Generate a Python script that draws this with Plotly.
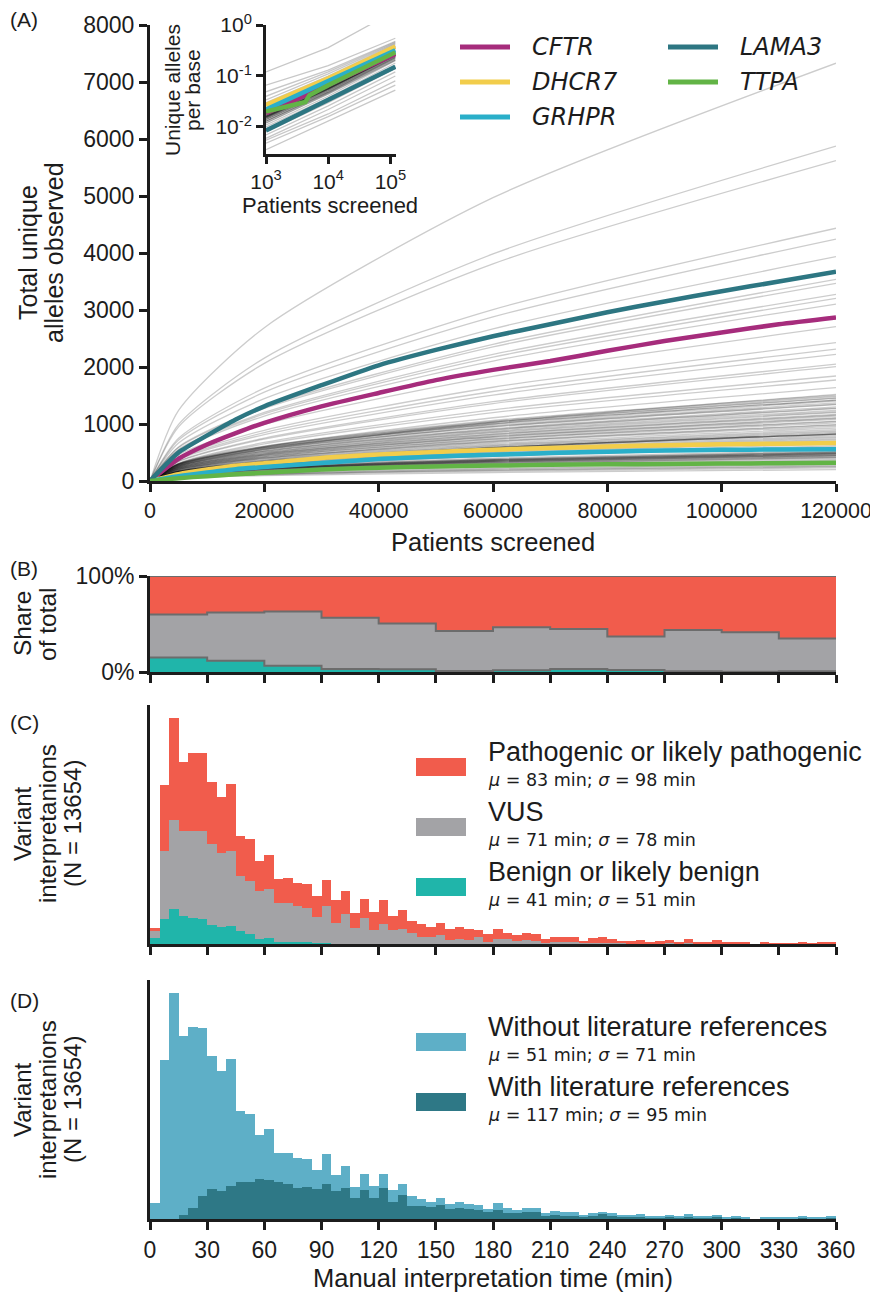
import plotly.graph_objects as go

# page is drawn with an 8px body margin: figure is sized to fit, coords are given in window pixels
OFF = 8
W, H = 870, 1285
def fx(p): return (p - OFF) / W
def fy(p): return 1 - (p - OFF) / H

FONT = "Liberation Sans, Arial, sans-serif"
MATH = "DejaVu Sans, sans-serif"
INK = "#1c1c1c"

# ---------------- Panel A : unique alleles vs patients ----------------
patients_grid = [0, 5000, 10000, 15000, 20000, 30000, 40000, 50000, 60000,
                 70000, 80000, 90000, 100000, 110000, 120000]
patients_ticks = [0, 20000, 40000, 60000, 80000, 100000, 120000]
gene_names = ["CFTR", "DHCR7", "GRHPR", "LAMA3", "TTPA"]
gene_colors = ["#a62c7c", "#f2cd4b", "#2aafc9", "#2d7682", "#62b446"]
cftr_alleles = [0, 390, 640, 840, 1020, 1310, 1545, 1770, 1950, 2105, 2285, 2455, 2605, 2750, 2870]
dhcr7_alleles = [0, 120, 200, 268, 310, 405, 465, 510, 548, 580, 606, 628, 645, 655, 665]
grhpr_alleles = [0, 85, 150, 208, 245, 315, 385, 430, 460, 490, 515, 535, 547, 552, 558]
lama3_alleles = [0, 500, 800, 1080, 1310, 1680, 2030, 2300, 2540, 2750, 2960, 3150, 3330, 3500, 3672]
ttpa_alleles = [0, 50, 85, 118, 145, 200, 232, 255, 270, 283, 292, 299, 305, 313, 321]
gene_alleles = [cftr_alleles, dhcr7_alleles, grhpr_alleles, lama3_alleles, ttpa_alleles]

# background genes: value at 5k, 20k, 60k and 120k patients
gray_x = [0, 5000, 20000, 60000, 120000]
gray_5k = [1239, 993, 950, 750, 717, 665, 598, 586, 553, 542, 525, 457, 410, 391, 376, 347, 339, 311, 299, 277, 257,
           306, 302, 298, 296, 290, 286, 279, 273, 265, 259, 253, 245, 239, 233, 226, 220, 214, 208, 202, 196, 190, 184,
           180, 175, 171, 168, 168, 168, 163, 159, 155, 151, 147, 143, 139, 133, 126,
           158, 153, 142, 137, 134, 132, 129, 126, 124, 121, 118, 116, 113, 110, 108, 105, 100, 95, 89, 79, 74, 68, 66, 60, 53,
           290, 275, 262, 248, 236, 224, 212, 200, 168, 132, 128, 124, 118]
gray_20k = [2690, 2156, 2063, 1628, 1558, 1444, 1298, 1273, 1202, 1176, 1140, 993, 890, 850, 815, 753, 736, 676, 650, 601, 558,
            612, 604, 596, 592, 579, 571, 559, 547, 530, 518, 506, 490, 477, 465, 453, 441, 428, 416, 404, 392, 379, 367,
            359, 351, 343, 336, 336, 336, 326, 318, 310, 302, 294, 286, 277, 265, 253,
            283, 273, 254, 245, 240, 236, 231, 226, 221, 217, 212, 207, 203, 198, 193, 188, 179, 170, 160, 141, 132, 122, 118, 108, 94,
            580, 551, 523, 496, 472, 448, 424, 400, 336, 236, 228, 221, 212]
gray_60k = [4970, 3983, 3810, 3007, 2878, 2668, 2399, 2351, 2220, 2173, 2105, 1835, 1645, 1570, 1507, 1391, 1359, 1249, 1201, 1110, 1031,
            1061, 1046, 1032, 1025, 1004, 990, 969, 947, 919, 898, 877, 848, 827, 806, 785, 764, 742, 721, 700, 679, 658, 636,
            622, 608, 594, 583, 583, 583, 566, 551, 537, 523, 509, 495, 481, 460, 438,
            448, 433, 403, 388, 381, 374, 366, 359, 351, 344, 336, 329, 321, 314, 306, 299, 284, 269, 254, 224, 209, 194, 187, 172, 149,
            1004, 955, 905, 860, 817, 776, 735, 693, 583, 374, 362, 351, 336]
gray_120k = [7330, 5875, 5620, 4435, 4245, 3935, 3538, 3468, 3275, 3205, 3105, 2707, 2426, 2315, 2222, 2052, 2005, 1842, 1772, 1637, 1520,
             1500, 1480, 1460, 1450, 1420, 1400, 1370, 1340, 1300, 1270, 1240, 1200, 1170, 1140, 1110, 1080, 1050, 1020, 990, 960, 930, 900,
             880, 860, 840, 824, 824, 824, 800, 780, 760, 740, 720, 700, 680, 650, 620,
             600, 580, 540, 520, 510, 500, 490, 480, 470, 460, 450, 440, 430, 420, 410, 400, 380, 360, 340, 300, 280, 260, 250, 230, 200,
             1420, 1350, 1280, 1215, 1155, 1098, 1040, 980, 824, 500, 485, 470, 450]

# inset: unique alleles per base (log-log)
inset_x = [1000, 10000, 120000]
inset_gray_1e3 = [0.12, 0.066, 0.049, 0.040, 0.034, 0.030, 0.028, 0.026, 0.024, 0.022, 0.021, 0.020, 0.019, 0.018, 0.017,
                  0.016, 0.016, 0.016, 0.015, 0.015, 0.014, 0.013, 0.012, 0.011, 0.010, 0.009, 0.008, 0.007, 0.006, 0.0055,
                  0.0048, 0.0036, 0.023, 0.021, 0.019, 0.018, 0.017, 0.016, 0.015, 0.014, 0.013, 0.012, 0.016, 0.016,
                  0.017, 0.015, 0.014, 0.013]
inset_gray_1e4 = [0.36, 0.16, 0.13, 0.12, 0.11, 0.10, 0.095, 0.09, 0.085, 0.08, 0.075, 0.072, 0.068, 0.065, 0.062,
                  0.058, 0.056, 0.056, 0.055, 0.053, 0.05, 0.047, 0.044, 0.04, 0.037, 0.033, 0.03, 0.026, 0.022, 0.018,
                  0.016, 0.013, 0.083, 0.077, 0.07, 0.066, 0.062, 0.058, 0.055, 0.052, 0.048, 0.045, 0.057, 0.057,
                  0.06, 0.054, 0.05, 0.047]
inset_gray_1e5 = [1.9, 0.55, 0.48, 0.46, 0.44, 0.42, 0.40, 0.38, 0.36, 0.34, 0.33, 0.31, 0.30, 0.29, 0.28,
                  0.27, 0.26, 0.26, 0.26, 0.25, 0.24, 0.23, 0.21, 0.20, 0.18, 0.16, 0.14, 0.12, 0.10, 0.08,
                  0.066, 0.053, 0.38, 0.35, 0.32, 0.30, 0.28, 0.265, 0.25, 0.235, 0.22, 0.205, 0.26, 0.26,
                  0.27, 0.25, 0.23, 0.22]
cftr_inset = [0.0186, 0.068, 0.27]
dhcr7_inset = [0.027, 0.09, 0.376]
grhpr_inset = [0.022, 0.079, 0.32]
lama3_inset = [0.0085, 0.034, 0.152]
ttpa_inset_x = [1000, 3500, 4300, 5000, 10000, 120000]
ttpa_inset = [0.020, 0.030, 0.031, 0.042, 0.066, 0.29]

# ---------------- Panel B : share by 30-min bins ----------------
share_bins = [0, 30, 60, 90, 120, 150, 180, 210, 240, 270, 300, 330, 360]
share_benign = [0.15, 0.117, 0.064, 0.032, 0.028, 0.011, 0.018, 0.032, 0.021, 0.007, 0.003, 0.007]
share_benign_vus = [0.60, 0.62, 0.63, 0.565, 0.505, 0.428, 0.466, 0.449, 0.371, 0.438, 0.413, 0.35]

# ---------------- Panel C / D : 5-min histograms ----------------
bin_width = 5
time_ticks = list(range(0, 361, 30))
c_total = [49, 478, 679, 547, 574, 574, 487, 442, 481, 325, 316, 250, 268, 196, 199, 184, 181, 145, 193, 133, 160, 94,
           136, 97, 133, 85, 103, 70, 61, 52, 64,
           46, 52, 46, 43, 31, 46, 34, 28, 34, 31, 16, 22, 22, 22, 10, 19, 22, 16, 10, 10, 13, 7, 10, 13, 4, 16, 4, 7,
           13, 4, 4, 4, 0, 4, 1, 1, 1, 7, 1, 4, 7]
c_benign_vus = [40, 280, 373, 340, 340, 340, 301, 274, 280, 205, 190, 160, 166, 124, 124, 115, 109, 82, 115, 64, 91, 49,
                79, 43, 61, 43, 46, 34, 22, 22, 28,
                13, 16, 13, 22, 7, 16, 16, 10, 13, 10, 4, 7, 7, 7, 3, 4, 4, 3, 2, 1, 1, 1, 1, 2, 1, 2, 1, 1, 1, 0,
                0, 0, 0, 0, 0, 0, 0, 0, 0, 0, 0]
c_benign = [19, 76, 106, 85, 79, 76, 58, 52, 55, 40, 31, 16, 19, 7, 7, 7, 7, 4, 4] + [0] * 53
d_total = [48, 477, 678, 549, 576, 573, 489, 444, 480, 324, 315, 252, 270, 198, 198, 183, 180, 147, 195, 132, 159, 96,
           135, 99, 135, 87, 105, 69, 60, 51, 63,
           46, 52, 46, 43, 31, 49, 34, 28, 34, 34, 19, 25, 22, 22, 13, 19, 22, 19, 13, 10, 16, 10, 10, 13, 7, 16, 7, 10,
           13, 4, 7, 4, 0, 4, 4, 4, 4, 7, 4, 4, 7]
d_with_refs = [0, 0, 0, 12, 33, 69, 90, 84, 99, 111, 111, 120, 117, 111, 105, 93, 96, 90, 105, 84, 93, 63, 87, 63, 93,
               51, 72, 39, 39, 36, 42,
               31, 34, 31, 28, 22, 28, 19, 19, 22, 22, 10, 13, 10, 10, 7, 10, 16, 10, 7, 7, 7, 4, 4, 7, 4, 7, 4, 4, 7, 2,
               3, 2, 0, 2, 1, 1, 1, 4, 1, 1, 3]

c_labels = ["Pathogenic or likely pathogenic", "VUS", "Benign or likely benign"]
c_stats = [(83, 98), (71, 78), (41, 51)]
d_labels = ["Without literature references", "With literature references"]
d_stats = [(51, 71), (117, 95)]

RED, GRAY, TEAL = "#f15c4c", "#a3a3a6", "#20b5aa"
LIGHT, DARK = "#5eafc7", "#2e7886"

fig = go.Figure()

# ---- panel A traces
for i in range(len(gray_120k)):
    fig.add_trace(go.Scatter(x=gray_x, y=[0, gray_5k[i], gray_20k[i], gray_60k[i], gray_120k[i]],
                             mode="lines", line=dict(color="rgba(0,0,0,0.2)", width=1.3, shape="spline", smoothing=0.7),
                             xaxis="x", yaxis="y", hoverinfo="skip", showlegend=False))
for name, col, vals in zip(gene_names, gene_colors, gene_alleles):
    fig.add_trace(go.Scatter(x=patients_grid, y=vals, mode="lines", name=name,
                             line=dict(color=col, width=4.5, shape="spline", smoothing=0.6),
                             xaxis="x", yaxis="y", showlegend=False))

# ---- inset
for a, b, c in zip(inset_gray_1e3, inset_gray_1e4, inset_gray_1e5):
    fig.add_trace(go.Scatter(x=inset_x, y=[a, b, c], mode="lines",
                             line=dict(color="rgba(0,0,0,0.22)", width=1.3),
                             xaxis="x2", yaxis="y2", hoverinfo="skip", showlegend=False))
inset_sets = [(inset_x, cftr_inset), (inset_x, dhcr7_inset), (inset_x, grhpr_inset),
              (inset_x, lama3_inset), (ttpa_inset_x, ttpa_inset)]
for (xs, ys), col in zip(inset_sets, gene_colors):
    fig.add_trace(go.Scatter(x=xs, y=ys, mode="lines", line=dict(color=col, width=4.5),
                             xaxis="x2", yaxis="y2", showlegend=False))

# ---- panel B
bx = share_bins
ben = share_benign + [share_benign[-1]]
bv = share_benign_vus + [share_benign_vus[-1]]
top = [1.0] * len(bx)
edge = dict(color="#6c6c6c", width=2, shape="hv")
fig.add_trace(go.Scatter(x=bx, y=ben, mode="lines", fill="tozeroy", fillcolor=TEAL, line=edge,
                         xaxis="x3", yaxis="y3", showlegend=False))
fig.add_trace(go.Scatter(x=bx, y=bv, mode="lines", fill="tonexty", fillcolor=GRAY, line=edge,
                         xaxis="x3", yaxis="y3", showlegend=False))
fig.add_trace(go.Scatter(x=bx, y=top, mode="lines", fill="tonexty", fillcolor=RED, line=edge,
                         xaxis="x3", yaxis="y3", showlegend=False))

# ---- panel C
centers = [bin_width * i + bin_width / 2 for i in range(len(c_total))]
c_vus = [bv_ - b_ for bv_, b_ in zip(c_benign_vus, c_benign)]
c_path = [t - bv_ for t, bv_ in zip(c_total, c_benign_vus)]
for vals, col in [(c_benign, TEAL), (c_vus, GRAY), (c_path, RED)]:
    fig.add_trace(go.Bar(x=centers, y=vals, width=bin_width, marker=dict(color=col, line=dict(width=0)),
                         xaxis="x4", yaxis="y4", showlegend=False))

# ---- panel D
d_without = [t - w for t, w in zip(d_total, d_with_refs)]
for vals, col in [(d_with_refs, DARK), (d_without, LIGHT)]:
    fig.add_trace(go.Bar(x=centers, y=vals, width=bin_width, marker=dict(color=col, line=dict(width=0)),
                         xaxis="x5", yaxis="y5", showlegend=False))

# ---- axes
axline = dict(showline=True, linewidth=3, linecolor=INK, ticks="outside", ticklen=8, tickwidth=3,
              tickcolor=INK, showgrid=False, zeroline=False, automargin=False,
              tickfont=dict(family=FONT, size=23, color=INK))
small = {**axline, "tickfont": dict(family=FONT, size=21, color=INK), "ticklen": 7}
xdom = [fx(150), fx(836)]
layout = dict(
    template="none",
    width=W, height=H, margin=dict(l=0, r=0, t=0, b=0, autoexpand=False),
    paper_bgcolor="white", plot_bgcolor="rgba(0,0,0,0)",
    barmode="stack", bargap=0, showlegend=False,
    xaxis=dict(domain=xdom, range=[0, 120000], tickvals=patients_ticks,
               ticktext=[str(v) for v in patients_ticks], anchor="y",
               **{**axline, "tickfont": dict(family=FONT, size=21.5, color=INK)}),
    yaxis=dict(domain=[fy(481), fy(25)], range=[0, 8000], tickvals=list(range(0, 8001, 1000)),
               ticktext=[str(v) for v in range(0, 8001, 1000)], anchor="x", **axline),
    xaxis2=dict(domain=[fx(266), fx(396)], type="log", range=[3, 5.09], tickvals=[1e3, 1e4, 1e5],
                ticktext=["10<sup>3</sup>", "10<sup>4</sup>", "10<sup>5</sup>"], anchor="y2", **small),
    yaxis2=dict(domain=[fy(154), fy(25)], type="log", range=[-2.53, 0], tickvals=[1, 0.1, 0.01],
                ticktext=["10<sup>0</sup>", "10<sup>-1</sup>", "10<sup>-2</sup>"], anchor="x2", **small),
    xaxis3=dict(domain=xdom, range=[0, 360], tickvals=time_ticks, showticklabels=False, anchor="y3", **axline),
    yaxis3=dict(domain=[fy(672), fy(576)], range=[0, 1], tickvals=[0, 1], ticktext=["0%", "100%"], anchor="x3", **axline),
    xaxis4=dict(domain=xdom, range=[0, 360], tickvals=time_ticks, showticklabels=False, anchor="y4", **axline),
    yaxis4=dict(domain=[fy(944), fy(705)], range=[0, 717], anchor="x4",
                **{**axline, "ticks": "", "showticklabels": False}),
    xaxis5=dict(domain=xdom, range=[0, 360], tickvals=time_ticks, ticktext=[str(v) for v in time_ticks],
                anchor="y5", **axline),
    yaxis5=dict(domain=[fy(1219), fy(980)], range=[0, 717], anchor="x5",
                **{**axline, "ticks": "", "showticklabels": False}),
)
fig.update_layout(**layout)

ann = []
shapes = []
def text(x, y, s, size, family=FONT, angle=0, xanchor="center"):
    ann.append(dict(x=fx(x), y=fy(y), xref="paper", yref="paper", text=s, showarrow=False,
                    textangle=angle, xanchor=xanchor, yanchor="middle",
                    font=dict(family=family, size=size, color=INK)))

# panel labels
for lab, yy in [("(A)", 20), ("(B)", 568), ("(C)", 722), ("(D)", 1000)]:
    text(8, yy, lab, 21, xanchor="left")

# axis titles
text(28, 253, "Total unique", 25, angle=-90)
text(54, 253, "alleles observed", 25, angle=-90)
text(493, 542, "Patients screened", 25.5)
text(172, 90, "Unique alleles", 21, angle=-90)
text(192, 90, "per base", 21, angle=-90)
text(330, 205, "Patients screened", 22)
text(22, 624, "Share", 24.5, angle=-90)
text(47, 624, "of total", 24.5, angle=-90)
for yc in (824, 1100):
    text(22, yc, "Variant", 24, angle=-90)
    text(47, yc, "interpretanions", 24, angle=-90)
    text(72, yc, "(N = 13654)", 24, angle=-90)
text(493, 1278, "Manual interpretation time (min)", 25.5)

# panel A legend
leg_pos = [(460, 47), (460, 82), (460, 117), (668, 47), (668, 82)]
for name, col, (lx, ly) in zip(gene_names, gene_colors, leg_pos):
    shapes.append(dict(type="line", xref="paper", yref="paper", x0=fx(lx), x1=fx(lx + 50), y0=fy(ly), y1=fy(ly),
                       line=dict(color=col, width=5)))
    text(lx + 70, ly, "<i>%s</i>" % name, 24, family=MATH, xanchor="left")

# panel C / D legends
def hist_legend(labels, stats, colors, rect_tops):
    for lab, (mu, sd), col, rt in zip(labels, stats, colors, rect_tops):
        shapes.append(dict(type="rect", xref="paper", yref="paper", x0=fx(416), x1=fx(466),
                           y0=fy(rt + 18), y1=fy(rt), fillcolor=col, line=dict(width=0)))
        text(486, rt - 6, lab, 27, xanchor="left")
        text(486, rt + 22, "<i>μ</i> = %d min; <i>σ</i> = %d min" % (mu, sd), 17.5, family=MATH, xanchor="left")

hist_legend(c_labels, c_stats, [RED, GRAY, TEAL], [758, 818, 878])
hist_legend(d_labels, d_stats, [LIGHT, DARK], [1033, 1093])

fig.update_layout(annotations=ann, shapes=shapes)
fig.write_html("out.html")
